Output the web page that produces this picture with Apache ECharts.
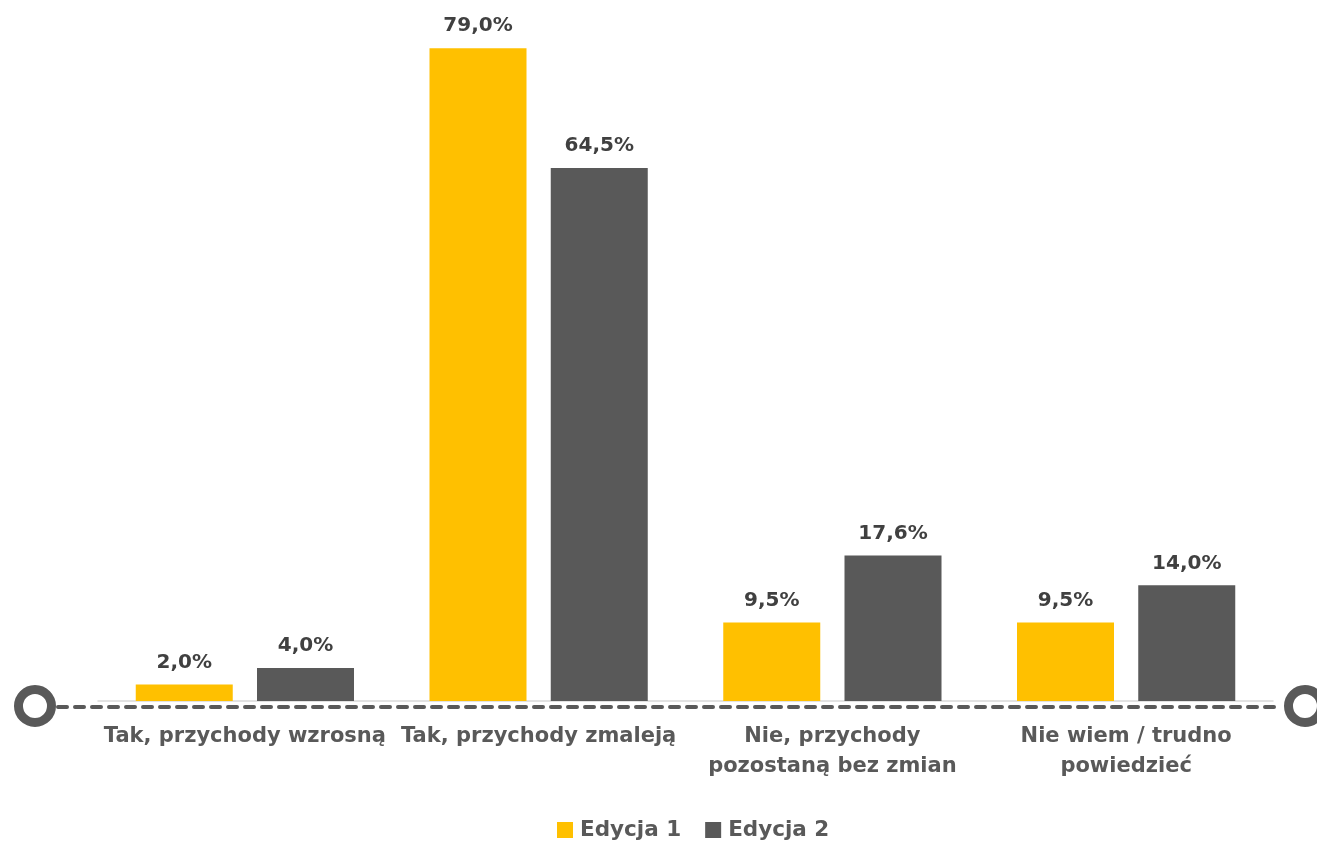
<!DOCTYPE html>
<html><head><meta charset="utf-8">
<script src="https://cdn.jsdelivr.net/npm/echarts@6/dist/echarts.min.js"></script>
<style>html,body{margin:0;padding:0;background:#fff}#c{width:1317px;height:847px}</style>
</head><body><div id="c"></div>
<script>
const categories = ['Tak, przychody wzrosną', 'Tak, przychody zmaleją', 'Nie, przychody\npozostaną bez zmian', 'Nie wiem / trudno\npowiedzieć'];
const seriesNames = ['Edycja 1', 'Edycja 2'];
const edycja1 = [2.0, 79.0, 9.5, 9.5];
const edycja2 = [4.0, 64.5, 17.6, 14.0];

const FONT = 'DejaVu Sans';
const chart = echarts.init(document.getElementById('c'));
const lbl = {
  show: true, position: 'top', distance: 12,
  fontFamily: FONT, fontWeight: 'bold', fontSize: 20, color: '#404040',
  formatter: p => p.value.toFixed(1).replace('.', ',') + '%'
};
chart.setOption({
  animation: false,
  grid: { left: 98, right: 44, top: 40, bottom: 146 },
  legend: {
    bottom: 1, left: 552, itemWidth: 16, itemHeight: 16, itemGap: 24,
    icon: 'rect',
    textStyle: { fontFamily: FONT, fontWeight: 'bold', fontSize: 21.5, color: '#595959', padding: [0, 0, 0, 2] }
  },
  xAxis: {
    type: 'category', data: categories,
    axisTick: { show: false },
    axisLine: { show: true, lineStyle: { color: '#d9d9d9', width: 1.5 } },
    axisLabel: { margin: 21, fontFamily: FONT, fontWeight: 'bold', fontSize: 21, color: '#595959', lineHeight: 30, interval: 0 }
  },
  yAxis: { type: 'value', min: 0, max: 80, show: false, splitLine: { show: false } },
  series: [
    { name: seriesNames[0], type: 'bar', data: edycja1, barWidth: 97, barGap: '25%', itemStyle: { color: '#FFC000' }, label: lbl },
    { name: seriesNames[1], type: 'bar', data: edycja2, barWidth: 97, itemStyle: { color: '#595959' }, label: lbl }
  ],
  graphic: [
    { type: 'line', shape: { x1: 58, y1: 707, x2: 1282, y2: 707 }, style: { stroke: '#595959', lineWidth: 4, lineDash: [9, 8], lineCap: 'round' }, z: 10 },
    { type: 'circle', shape: { cx: 35, cy: 706, r: 16.5 }, style: { fill: '#fff', stroke: '#595959', lineWidth: 9 }, z: 11 },
    { type: 'circle', shape: { cx: 1305, cy: 706, r: 16.5 }, style: { fill: '#fff', stroke: '#595959', lineWidth: 9 }, z: 11 }
  ]
});
</script></body></html>
